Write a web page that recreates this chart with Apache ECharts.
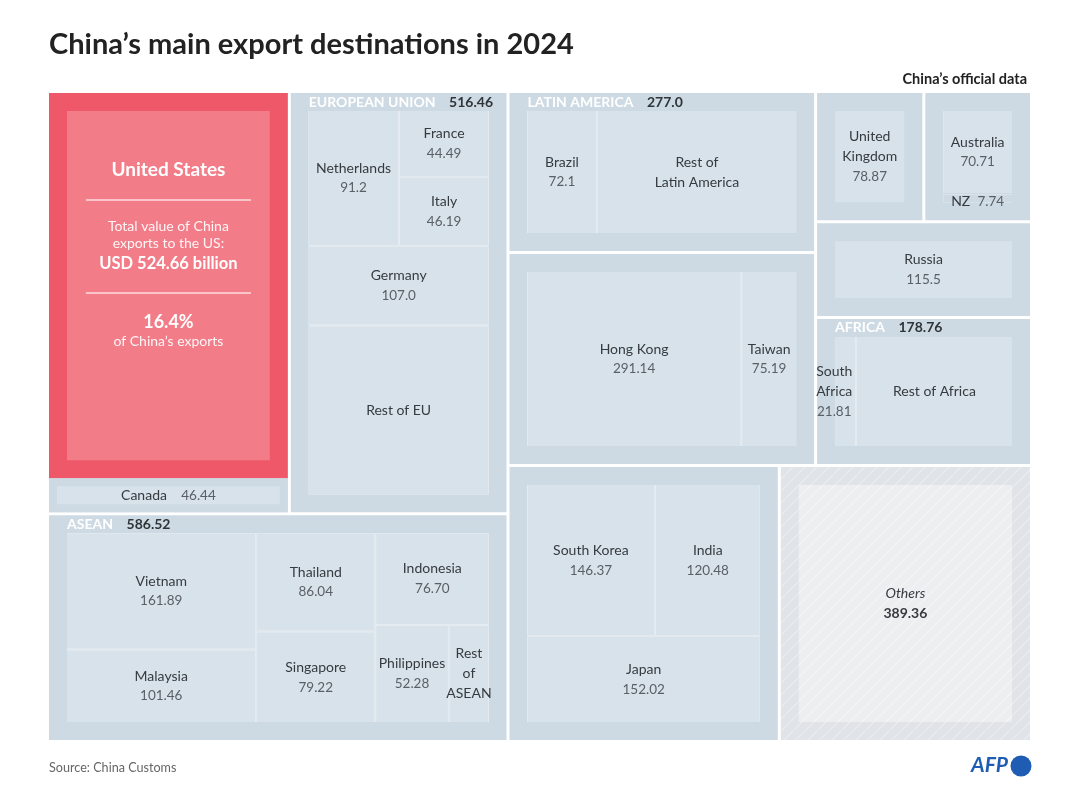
<!DOCTYPE html>
<html>
<head>
<meta charset="utf-8">
<title>China's main export destinations in 2024</title>
<script src="https://cdn.jsdelivr.net/npm/echarts@6/dist/echarts.min.js"></script>
<style>
  html, body { margin: 0; padding: 0; background: #fff; }
  #main { width: 1080px; height: 793px; }
</style>
</head>
<body>
<div id="main"></div>
<script>
// China's exports by destination, 2024, USD billion
const usValue = 524.66;
const canadaValue = 46.44;

const euTotal = 516.46;
const euNames = ['Netherlands', 'France', 'Italy', 'Germany'];
const euValues = [91.2, 44.49, 46.19, 107.0];

const aseanTotal = 586.52;
const aseanNames = ['Vietnam', 'Malaysia', 'Thailand', 'Singapore', 'Indonesia', 'Philippines'];
const aseanValues = [161.89, 101.46, 86.04, 79.22, 76.70, 52.28];

const latamTotal = 277.0;
const brazilValue = 72.1;

const hkValue = 291.14;
const taiwanValue = 75.19;

const eastNames = ['South Korea', 'India', 'Japan'];
const eastValues = [146.37, 120.48, 152.02];

const ukValue = 78.87;
const australiaValue = 70.71;
const nzValue = 7.74;
const russiaValue = 115.5;

const africaTotal = 178.76;
const southAfricaValue = 21.81;

const othersValue = 389.36;

// values printed with one decimal in the original
const oneDecimal = ['Netherlands', 'Germany', 'Brazil', 'Russia'];
const breaks = {
    'United Kingdom': 'United\nKingdom',
    'Rest of Latin America': 'Rest of\nLatin America',
    'South Africa': 'South\nAfrica',
    'Rest of ASEAN': 'Rest\nof\nASEAN'
};

const sum = arr => arr.reduce((a, b) => a + b, 0);
const euRest = euTotal - sum(euValues);
const aseanRest = aseanTotal - sum(aseanValues);
const latamRest = latamTotal - brazilValue;
const africaRest = africaTotal - southAfricaValue;

// colours
const TILE = '#cddae3';
const PANEL = '#d7e2ea';
const LINE = '#e2e9ef';
const RED = '#ee5869';
const PINK = '#f27c88';

const rich = {
    n: { fontSize: 14, color: '#363b40', lineHeight: 20, align: 'center' },
    v: { fontSize: 13.5, color: '#5a5f65', lineHeight: 20, align: 'center' },
    ni: { fontSize: 14, color: '#363b40', lineHeight: 3 },
    vi: { fontSize: 13.5, color: '#5a5f65', lineHeight: 3 },
    it: { fontSize: 14, fontStyle: 'italic', color: '#363b40', lineHeight: 20, align: 'center' },
    ob: { fontSize: 14, fontWeight: 'bold', color: '#363b40', lineHeight: 20, align: 'center' },
    t: { fontSize: 19, fontWeight: 'bold', color: '#fff', lineHeight: 24, align: 'center' },
    hr: { width: 165, height: 0, borderWidth: 0.8, borderColor: 'rgba(255,255,255,0.85)', lineHeight: 36, align: 'center' },
    s: { fontSize: 14, color: 'rgba(255,255,255,0.92)', lineHeight: 17, align: 'center' },
    b: { fontSize: 16.5, fontWeight: 'bold', color: '#fff', lineHeight: 23, align: 'center' },
    p: { fontSize: 18, fontWeight: 'bold', color: '#fff', lineHeight: 22, align: 'center' }
};

function fmt(name, v) {
    return v.toFixed(oneDecimal.indexOf(name) >= 0 ? 1 : 2);
}

function labelText(name, value) {
    let lines = (breaks[name] || name).split('\n').map(s => '{n|' + s + '}');
    if (value != null) lines.push('{v|' + fmt(name, value) + '}');
    return lines.join('\n');
}

// height of a rich label, from the line heights of its styles
function textHeight(txt) {
    return txt.split('\n').reduce((h, line) => {
        let m = line.match(/\{(\w+)\|/g) || [];
        let lh = Math.max.apply(null, m.map(s => rich[s.slice(1, -1)].lineHeight).concat([0]));
        return h + lh;
    }, 0);
}

function leaf(name, value, extra) {
    return Object.assign({
        name: name,
        value: value,
        txt: labelText(name, value),
        itemStyle: { color: PANEL, borderWidth: 0 }
    }, extra || {});
}

function restLeaf(name, value, extra) {
    return leaf(name, value, Object.assign({ txt: labelText(name) }, extra || {}));
}

// white separators between the big blocks
function split(children) {
    return { name: '', children: children, itemStyle: { borderWidth: 0, gapWidth: 3, borderColor: '#fff' } };
}

// thin lines inside a tile
function sub(children, color) {
    return { name: '', children: children, itemStyle: { borderWidth: 0, gapWidth: 1.5, borderColor: color || LINE } };
}

function header(title, total, dp) {
    return {
        show: true,
        height: 18,
        formatter: '{h|' + title + '    }{hv|' + total.toFixed(dp) + '}'
    };
}

function tile(children, head, lineColor) {
    let node = {
        name: '',
        children: [sub(children, lineColor)],
        itemStyle: { borderWidth: 18, gapWidth: 0, borderColor: TILE }
    };
    if (head) node.upperLabel = head;
    return node;
}

function hatch(bg, line) {
    let c = document.createElement('canvas');
    c.width = 12;
    c.height = 12;
    let g = c.getContext('2d');
    g.fillStyle = bg;
    g.fillRect(0, 0, 12, 12);
    g.strokeStyle = line;
    g.lineWidth = 1.3;
    g.beginPath();
    g.moveTo(0, 12); g.lineTo(12, 0);
    g.moveTo(-6, 6); g.lineTo(6, -6);
    g.moveTo(6, 18); g.lineTo(18, 6);
    g.stroke();
    return { image: c, repeat: 'repeat' };
}

const usText = [
    '{t|United States}',
    '{hr|}',
    '{s|Total value of China}',
    '{s|exports to the US:}',
    '{b|USD ' + usValue.toFixed(2) + ' billion}',
    '{hr|}',
    '{p|16.4%}',
    '{s|of China’s exports}'
].join('\n');

const usCanada = {
    name: '',
    itemStyle: { borderWidth: 0, gapWidth: 0, borderColor: TILE },
    children: [
        {
            name: 'United States', value: usValue, txt: usText, center: false,
            itemStyle: { color: PINK, borderColor: RED, borderWidth: 18 },
            label: { position: 'insideTop', distance: 47 }
        },
        leaf('Canada', canadaValue, {
            txt: '{ni|Canada    }{vi|' + fmt('Canada', canadaValue) + '}',
            itemStyle: { color: PANEL, borderColor: TILE, borderWidth: 8 }
        })
    ]
};

const eu = tile([
    sub([
        leaf(euNames[0], euValues[0]),
        sub([leaf(euNames[1], euValues[1]), leaf(euNames[2], euValues[2])])
    ]),
    leaf(euNames[3], euValues[3]),
    restLeaf('Rest of EU', euRest)
], header('EUROPEAN UNION', euTotal, 2));

const asean = tile([
    sub([leaf(aseanNames[0], aseanValues[0]), leaf(aseanNames[1], aseanValues[1])]),
    sub([leaf(aseanNames[2], aseanValues[2]), leaf(aseanNames[3], aseanValues[3])]),
    sub([
        leaf(aseanNames[4], aseanValues[4]),
        sub([leaf(aseanNames[5], aseanValues[5]), restLeaf('Rest of ASEAN', aseanRest)])
    ])
], header('ASEAN', aseanTotal, 2));

const latam = tile([
    leaf('Brazil', brazilValue),
    restLeaf('Rest of Latin America', latamRest)
], header('LATIN AMERICA', latamTotal, 1));

const hkTaiwan = tile([leaf('Hong Kong', hkValue), leaf('Taiwan', taiwanValue)]);

const eastAsia = tile([
    sub([leaf(eastNames[0], eastValues[0]), leaf(eastNames[1], eastValues[1])]),
    leaf(eastNames[2], eastValues[2])
]);

const uk = leaf('United Kingdom', ukValue, {
    itemStyle: { color: PANEL, borderColor: TILE, borderWidth: 18 }
});

const ausNz = tile([
    leaf('Australia', australiaValue),
    leaf('NZ', nzValue, {
        txt: '{ni|NZ  }{vi|' + fmt('NZ', nzValue) + '}',
        itemStyle: { color: TILE, borderWidth: 0 },
        label: { offset: [0, 3] }
    })
], null, TILE);

const russia = leaf('Russia', russiaValue, {
    itemStyle: { color: PANEL, borderColor: TILE, borderWidth: 18 }
});

const africa = tile([
    leaf('South Africa', southAfricaValue, { label: { offset: [-11, 0] } }),
    restLeaf('Rest of Africa', africaRest)
], header('AFRICA', africaTotal, 2));

const others = {
    name: 'Others', value: othersValue,
    txt: '{it|Others}\n{ob|' + fmt('Others', othersValue) + '}',
    itemStyle: {
        color: hatch('#eceef0', '#f4f5f6'),
        borderColor: hatch('#e0e4e8', '#eaedf0'),
        borderWidth: 18
    }
};

const tree = [
    split([split([usCanada, eu]), asean]),
    split([
        split([
            split([latam, hkTaiwan]),
            split([split([uk, ausNz]), russia, africa])
        ]),
        split([eastAsia, others])
    ])
];

let chart = echarts.init(document.getElementById('main'));
chart.setOption({
    animation: false,
    textStyle: { fontFamily: 'Lato' },
    title: [
        {
            text: 'China’s main export destinations in 2024',
            left: 49, top: 30, padding: 0,
            textStyle: { fontSize: 29, fontWeight: 'bold', color: '#222', fontFamily: 'Lato' }
        },
        {
            text: 'China’s official data',
            right: 53, top: 72, padding: 0,
            textStyle: { fontSize: 14.5, fontWeight: 'bold', color: '#222', fontFamily: 'Lato' }
        },
        {
            text: 'Source: China Customs',
            left: 49, top: 761, padding: 0,
            textStyle: { fontSize: 12.6, fontWeight: 'normal', color: '#666', fontFamily: 'Lato' }
        }
    ],
    graphic: [
        {
            type: 'text', left: 971, top: 755,
            style: { text: 'AFP', font: 'italic bold 21px Lato', fill: '#1f5cb3' }
        },
        {
            type: 'circle', shape: { cx: 1021, cy: 766, r: 10.5 },
            style: { fill: '#1f5cb3' }
        }
    ],
    series: [{
        type: 'treemap',
        left: 49, top: 93, width: 981, height: 647,
        roam: false,
        nodeClick: false,
        breadcrumb: { show: false },
        sort: false,
        squareRatio: 1,
        visibleMin: 0,
        itemStyle: { borderWidth: 0, gapWidth: 3, borderColor: '#fff' },
        label: {
            show: true,
            position: 'inside',
            padding: 0,
            overflow: 'none',
            formatter: p => (p.data && p.data.txt) || '',
            rich: rich
        },
        upperLabel: {
            show: false,
            height: 18,
            padding: [2, 0, 0, 0],
            overflow: 'none',
            rich: {
                h: { fontSize: 14, fontWeight: 'bold', color: '#fff', lineHeight: 14 },
                hv: { fontSize: 14, fontWeight: 'bold', color: '#2f3438', lineHeight: 14 }
            }
        },
        emphasis: { disabled: true },
        data: tree
    }]
});

// treemap labels start at the top of their cell: pad them down to the middle
function walk(items, fn) {
    items.forEach(item => {
        fn(item);
        if (item.children) walk(item.children, fn);
    });
}

let byName = {};
walk(tree, item => {
    if (item.txt && item.center !== false) byName[item.name] = item;
});
chart.getModel().getSeriesByIndex(0).getData().tree.eachNode(node => {
    let item = byName[node.name];
    let lay = node.getLayout();
    if (!item || !lay) return;
    let contentH = lay.height - 2 * (lay.borderWidth || 0);
    let pad = Math.max(0, (contentH - textHeight(item.txt)) / 2);
    item.label = Object.assign({}, item.label, { padding: [pad, 0, 0, 0] });
});
chart.setOption({ series: [{ data: tree }] });
</script>
</body>
</html>
